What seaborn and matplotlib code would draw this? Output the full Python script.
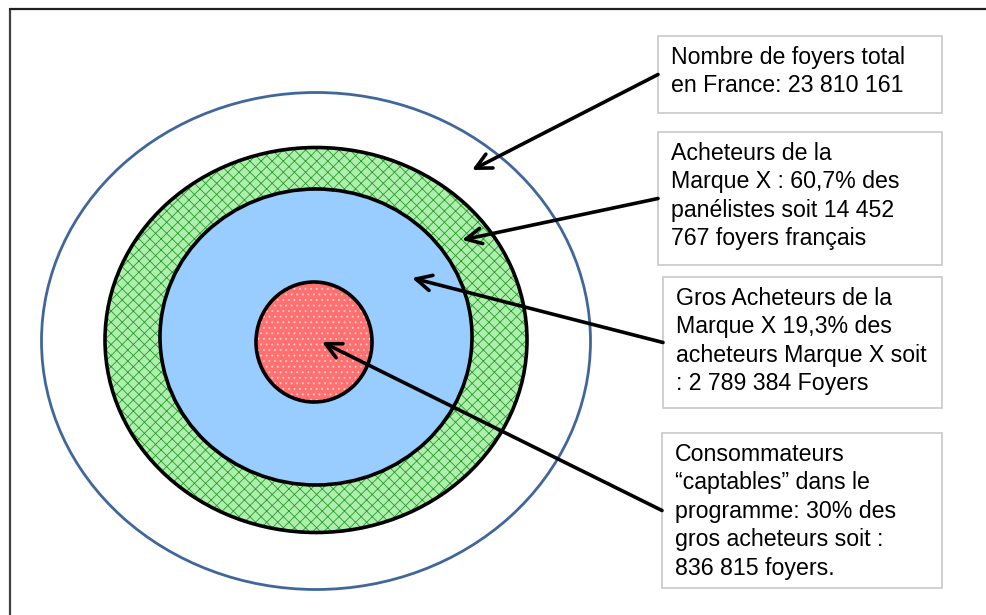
import matplotlib.pyplot as plt
import seaborn as sns
from matplotlib.patches import Ellipse, Rectangle

sns.set_theme(style="white")
plt.rcParams['font.family'] = ['Liberation Sans', 'DejaVu Sans']
plt.rcParams['hatch.linewidth'] = 0.6

# rings, outermost first (pixel units)
ring_names = ['Total', 'Acheteurs', 'Gros acheteurs', 'Captables']
ring_cx = [316, 316, 316, 314]
ring_cy = [341, 340, 337, 342]
ring_w = [549, 422, 312, 116]
ring_h = [497, 385, 296, 120]
ring_face = ['white', '#adf0ad', '#99ccff', '#ff7070']
ring_hatch = [None, 'xxx', None, '...']
ring_hatch_col = [None, '#2a9a2a', None, '#ffd0d0']
ring_edge = ['#41679a', 'black', 'black', 'black']

labels = [
    "Nombre de foyers total\nen France: 23 810 161",
    "Acheteurs de la\nMarque X : 60,7% des\npanélistes soit 14 452\n767 foyers français",
    "Gros Acheteurs de la\nMarque X 19,3% des\nacheteurs Marque X soit\n: 2 789 384 Foyers",
    "Consommateurs\n\u201ccaptables\u201d dans le\nprogramme: 30% des\ngros acheteurs soit :\n836 815 foyers.",
]
box_left = [658, 658, 663, 662]
box_top = [36, 132, 277, 433]
box_bottom = [113, 265, 408, 588]
box_right = 942
arrow_tip = [(472, 170), (462, 240), (412, 278), (322, 342)]

fig = plt.figure(figsize=(9.86, 6.15), dpi=100)
ax = fig.add_axes([0, 0, 1, 1])
ax.set_xlim(0, 986)
ax.set_ylim(615, 0)
ax.axis('off')

# page frame
ax.plot([10, 10], [615, 9], color='#404040', lw=1.6)
ax.plot([10, 986], [9, 9], color='#202020', lw=1.6)

for i in range(len(ring_names)):
    if ring_hatch[i]:
        plt.rcParams['hatch.color'] = ring_hatch_col[i]
        ax.add_patch(Ellipse((ring_cx[i], ring_cy[i]), ring_w[i], ring_h[i],
                             facecolor=ring_face[i], edgecolor=ring_hatch_col[i],
                             hatch=ring_hatch[i], lw=0, zorder=2 + i))
    else:
        ax.add_patch(Ellipse((ring_cx[i], ring_cy[i]), ring_w[i], ring_h[i],
                             facecolor=ring_face[i], edgecolor='none',
                             lw=0, zorder=2 + i))
    ax.add_patch(Ellipse((ring_cx[i], ring_cy[i]), ring_w[i], ring_h[i],
                         facecolor='none', edgecolor=ring_edge[i],
                         lw=2.0 if i == 0 else 2.6, zorder=2 + i))

for i, txt in enumerate(labels):
    ax.add_patch(Rectangle((box_left[i], box_top[i]),
                           box_right - box_left[i], box_bottom[i] - box_top[i],
                           facecolor='white', edgecolor='#c8c8c8', lw=1.2,
                           zorder=10))
    ax.text(box_left[i] + 13, box_top[i] + 10, txt, ha='left', va='top',
            fontsize=16.7, linespacing=1.3, color='black', zorder=11)
    mid = (box_top[i] + box_bottom[i]) / 2
    ax.annotate("", xy=arrow_tip[i], xytext=(box_left[i], mid),
                arrowprops=dict(arrowstyle='->', lw=2.6, color='black',
                                mutation_scale=28, shrinkA=0, shrinkB=0),
                zorder=12)

fig.savefig('out.png', dpi=100)
